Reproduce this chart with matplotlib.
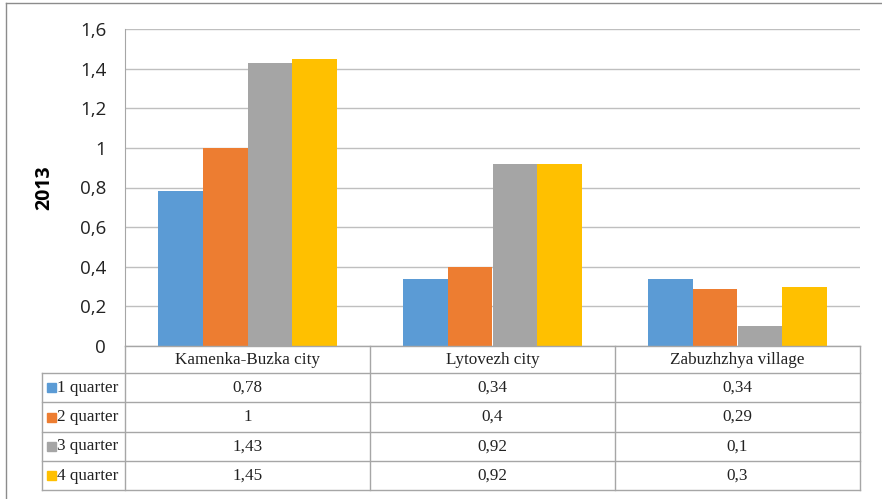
import matplotlib
matplotlib.use("Agg")
import matplotlib.pyplot as plt
from matplotlib.lines import Line2D
from matplotlib.patches import Rectangle
import numpy as np

categories = ["Kamenka-Buzka city", "Lytovezh city", "Zabuzhzhya village"]
series_names = ["1 quarter", "2 quarter", "3 quarter", "4 quarter"]
q1 = [0.78, 0.34, 0.34]
q2 = [1.0, 0.40, 0.29]
q3 = [1.43, 0.92, 0.10]
q4 = [1.45, 0.92, 0.30]
series_values = [q1, q2, q3, q4]
colors = ["#5B9BD5", "#ED7D31", "#A5A5A5", "#FFC000"]
yticks = [0, 0.2, 0.4, 0.6, 0.8, 1.0, 1.2, 1.4, 1.6]

W, H = 882, 499
fig = plt.figure(figsize=(W / 100, H / 100), dpi=100)


def fx(px):
    return px / W


def fy(py):
    return 1 - py / H


def fmt(v):
    s = f"{v:g}"
    return s.replace(".", ",")


# plot area (pixel coords of reference)
left, right, top, bottom = 125, 860, 29, 346
ax = fig.add_axes([fx(left), fy(bottom), fx(right - left), (bottom - top) / H])

n = len(series_names)
bw = 0.1825
x = np.arange(len(categories))
for i, (name, vals, c) in enumerate(zip(series_names, series_values, colors)):
    ax.bar(x + (i - (n - 1) / 2) * bw, vals, width=bw, color=c, label=name, zorder=3)

ax.set_xlim(-0.5, len(categories) - 0.5)
ax.set_ylim(0, 1.6)
ax.set_yticks(yticks)
ax.set_yticklabels([fmt(t) for t in yticks], fontsize=13.5, family="Open Sans", color="#222222")
ax.set_xticks([])
ax.tick_params(axis="y", length=0, pad=13.5)
ax.grid(axis="y", color="#BFBFBF", linewidth=1, zorder=0)
for s in ["top", "right", "bottom"]:
    ax.spines[s].set_visible(False)
ax.spines["left"].set_color("#A6A6A6")
ax.set_ylabel("2013", fontsize=14, fontweight="bold", family="Open Sans")
ax.yaxis.set_label_coords((54 - left) / (right - left), 0.5)

# data table
tcol = "#A6A6A6"
col_edges = [125, 370, 615, 860]
row_edges = [346, 373, 402, 432, 461, 490]
tleft = 42


def hline(y, x0, x1):
    fig.add_artist(Line2D([fx(x0), fx(x1)], [fy(y), fy(y)], color=tcol, lw=1))


def vline(xp, y0, y1):
    fig.add_artist(Line2D([fx(xp), fx(xp)], [fy(y0), fy(y1)], color=tcol, lw=1))


hline(row_edges[0], col_edges[0], col_edges[-1])
for y in row_edges[1:]:
    hline(y, tleft, col_edges[-1])
for xp in col_edges:
    vline(xp, row_edges[0], row_edges[-1])
vline(tleft, row_edges[1], row_edges[-1])

tfont = dict(family="Liberation Serif", fontsize=12.3, color="#222222")
for j, cat in enumerate(categories):
    cx = (col_edges[j] + col_edges[j + 1]) / 2
    cy = (row_edges[0] + row_edges[1]) / 2
    fig.text(fx(cx), fy(cy), cat, ha="center", va="center", **tfont)

for i, (name, vals, c) in enumerate(zip(series_names, series_values, colors)):
    cy = (row_edges[i + 1] + row_edges[i + 2]) / 2
    fig.add_artist(Rectangle((fx(47), fy(cy + 4.5)), fx(9), 9 / H, color=c))
    fig.text(fx(57), fy(cy), name, ha="left", va="center", **tfont)
    for j, v in enumerate(vals):
        cx = (col_edges[j] + col_edges[j + 1]) / 2
        fig.text(fx(cx), fy(cy), fmt(v), ha="center", va="center", **tfont)

# chart border
fig.add_artist(Line2D([fx(6), fx(6)], [fy(3), fy(498)], color="#8C8C8C", lw=1))
fig.add_artist(Line2D([fx(6), fx(882)], [fy(3), fy(3)], color="#8C8C8C", lw=1))

fig.savefig("out.png", dpi=100)
